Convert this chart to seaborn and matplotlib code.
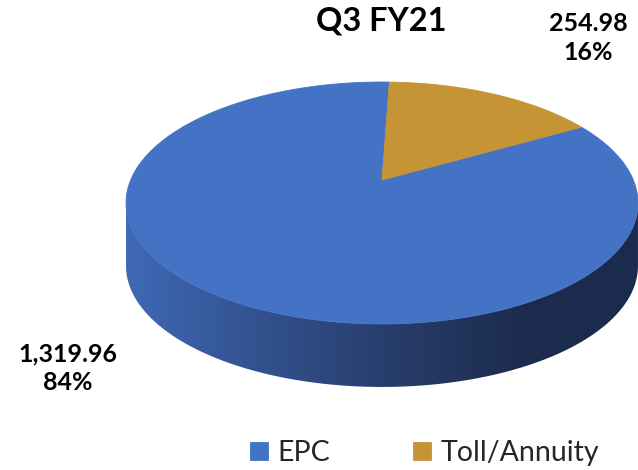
import numpy as np
import matplotlib
matplotlib.use("Agg")
import matplotlib.pyplot as plt
import matplotlib.transforms as mtransforms
from matplotlib.path import Path
from matplotlib.patches import PathPatch
from matplotlib.colors import LinearSegmentedColormap
import seaborn as sns

# ---- data ----
categories = ["EPC", "Toll/Annuity"]
values = [1319.96, 254.98]
percents = [84, 16]
title = "Q3 FY21"

# ---- style ----
sns.set_theme(style="white")
plt.rcParams["font.family"] = ["Lato", "DejaVu Sans"]
top_colors = ["#4472c4", "#c59434"]
side_cmap = LinearSegmentedColormap.from_list(
    "side", [(0.0, "#3f69b6"), (0.33, "#2f4c84"), (0.62, "#23365e"), (0.78, "#1c2c4f"), (1.0, "#1b2b4d")])

W, H = 638, 470
fig = plt.figure(figsize=(W / 100, H / 100), dpi=100)
ax = fig.add_axes([0, 0, 1, 1])

# perspective projection of the unit pie disc to pixel coords (y down)
CX, CY, A, B, K, DEPTH = 382.0, 180.0, 251.3, 116.6, 0.19, 63.0


class Persp(mtransforms.Transform):
    input_dims = 2
    output_dims = 2
    is_separable = False
    has_inverse = False

    def transform_non_affine(self, xy):
        xy = np.asarray(xy, dtype=float).reshape(-1, 2)
        x, y = xy[:, 0], xy[:, 1]
        w = 1.0 + K * y
        return np.column_stack([CX + A * x / w, CY - B * y / w])

    def transform_path_non_affine(self, path):
        pts, codes = [], []
        t = np.linspace(0, 1, 40)[1:]
        for seg, code in path.iter_bezier(simplify=False):
            cp = seg.control_points
            if code == Path.MOVETO:
                pts.append(cp[-1:])
                codes += [Path.MOVETO]
            else:
                p = seg(t)
                pts.append(p)
                codes += [Path.LINETO] * len(p)
        v = np.concatenate(pts)
        return Path(self.transform_non_affine(v), codes)


persp = Persp()

# side wall (front half, visible between silhouette points)
ang = np.linspace(np.pi + np.arcsin(K), 2 * np.pi - np.arcsin(K), 300)
topc = persp.transform(np.column_stack([np.cos(ang), np.sin(ang)]))
botc = topc + np.array([0, DEPTH])
side_verts = np.vstack([topc, botc[::-1], topc[:1]])
side_path = Path(side_verts, [Path.MOVETO] + [Path.LINETO] * (len(side_verts) - 2) + [Path.CLOSEPOLY])
side_patch = PathPatch(side_path, facecolor="none", edgecolor="none", transform=ax.transData)
ax.add_patch(side_patch)
xmin, xmax = side_verts[:, 0].min(), side_verts[:, 0].max()
grad = np.linspace(0, 1, 256)[None, :]
im = ax.imshow(grad, cmap=side_cmap, extent=[xmin, xmax, side_verts[:, 1].max(), side_verts[:, 1].min()],
               aspect="auto", zorder=1, interpolation="bilinear")
im.set_clip_path(side_patch)

# top face via pie
wedges, _ = ax.pie(values, colors=top_colors, startangle=88, counterclock=True,
                   wedgeprops=dict(linewidth=0.6))
for w, c in zip(wedges, top_colors):
    w.set_edgecolor(c)
    w.set_transform(persp + ax.transData)
    w.set_zorder(2)

ax.set_xlim(0, W)
ax.set_ylim(H, 0)
ax.set_aspect("auto")
ax.axis("off")

# texts
ax.text(381, 21, title, ha="center", va="center", fontsize=23.5, fontweight="bold", color="black")
label_pos = [(68, 368), (588, 38)]
for (x, y), v, p in zip(label_pos, values, percents):
    ax.text(x, y, f"{v:,.2f}\n{p}%", ha="center", va="center", fontsize=18,
            fontweight="bold", linespacing=1.3, color="black")

fig.legend(wedges, categories, loc="center", bbox_to_anchor=(424.5 / W, 1 - 453 / H), ncol=2,
           frameon=False, fontsize=20.5, handlelength=0.62, handleheight=0.62,
           handletextpad=0.35, columnspacing=2.9, borderpad=0)

fig.savefig("out.png", dpi=100)
